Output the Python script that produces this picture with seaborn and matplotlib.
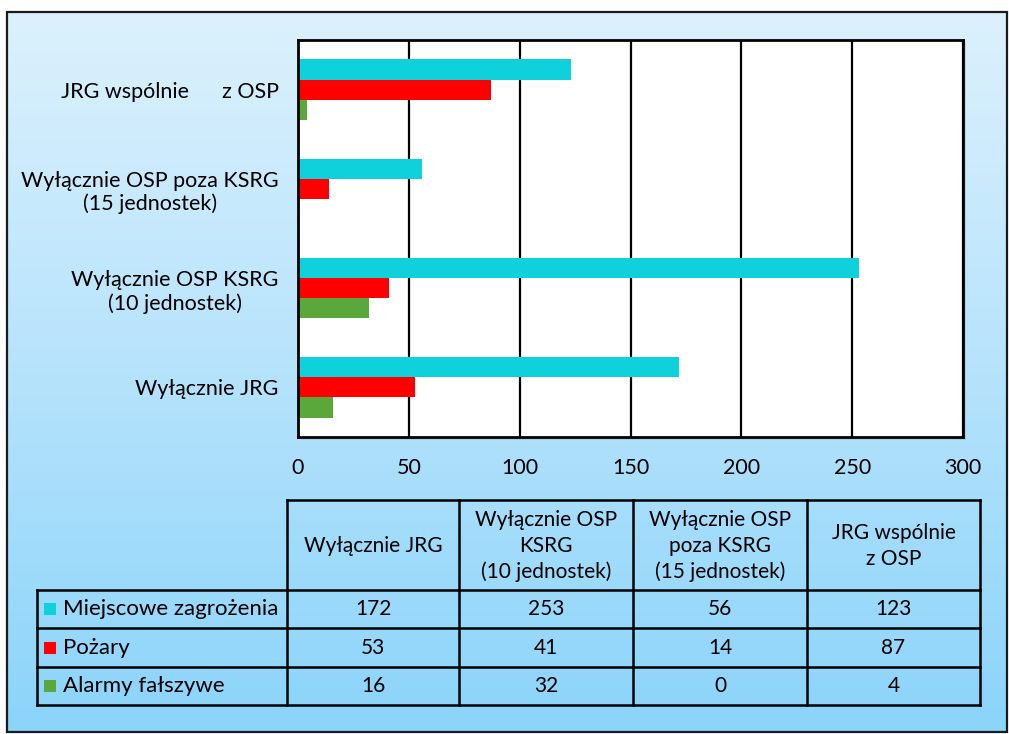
import matplotlib
matplotlib.use("Agg")
import matplotlib.pyplot as plt
import numpy as np
import pandas as pd
import seaborn as sns
from matplotlib.colors import LinearSegmentedColormap
from matplotlib.patches import Rectangle

# data
categories = ["Wyłącznie JRG", "Wyłącznie OSP KSRG", "Wyłącznie OSP poza KSRG", "JRG wspólnie z OSP"]
axis_labels = ["Wyłącznie JRG", "Wyłącznie OSP KSRG\n(10 jednostek)",
               "Wyłącznie OSP poza KSRG\n(15 jednostek)", "JRG wspólnie      z OSP"]
table_headers = ["Wyłącznie JRG", "Wyłącznie OSP\nKSRG\n(10 jednostek)",
                 "Wyłącznie OSP\npoza KSRG\n(15 jednostek)", "JRG wspólnie\nz OSP"]
series = ["Miejscowe zagrożenia", "Pożary", "Alarmy fałszywe"]
miejscowe = [172, 253, 56, 123]
pozary = [53, 41, 14, 87]
alarmy = [16, 32, 0, 4]
colors = ["#0ed1db", "#ff0000", "#5aa83c"]

values = [miejscowe, pozary, alarmy]
df = pd.DataFrame({
    "kat": categories * 3,
    "seria": [s for s in series for _ in categories],
    "wartosc": miejscowe + pozary + alarmy,
})

W, H = 1009, 734
fig = plt.figure(figsize=(W / 100, H / 100), dpi=100)
plt.rcParams["font.family"] = ["Lato", "DejaVu Sans"]

# background layer in pixel coordinates
bg = fig.add_axes([0, 0, 1, 1], zorder=0)
bg.set_xlim(0, W)
bg.set_ylim(H, 0)
bg.axis("off")
cmap = LinearSegmentedColormap.from_list("bg", ["#dcf1fd", "#b6e3fc", "#8bd4fa"])
grad = np.linspace(0, 1, 256).reshape(-1, 1)
bg.imshow(grad, cmap=cmap, extent=[7, 1007, 732, 12], aspect="auto", zorder=0)
bg.add_patch(Rectangle((7, 12), 1000, 720, fill=False, ec="#1a1a1a", lw=1.6, zorder=2))
# plot-area shadow
bg.add_patch(Rectangle((301, 42), 665, 398, fc="#9aa8b0", ec="none", alpha=0.35, zorder=1))

# bar chart
ax = fig.add_axes([298 / W, 1 - 437 / H, 665 / W, 397 / H], zorder=2)
sns.barplot(data=df, y="kat", x="wartosc", hue="seria", order=categories[::-1],
            hue_order=series, palette=colors, orient="h", width=0.61,
            saturation=1, ax=ax, legend=False)
ax.set_xlim(0, 300)
ax.set_ylim(3.5, -0.5)
ax.set_xticks(range(0, 301, 50))
ax.set_yticks(range(4))
ax.set_yticklabels(axis_labels[::-1], multialignment="center")
ax.set_xlabel("")
ax.set_ylabel("")
ax.set_facecolor("white")
ax.tick_params(axis="both", length=0, labelsize=15.5, colors="black")
ax.tick_params(axis="x", pad=15)
ax.tick_params(axis="y", pad=14)
for b in ax.patches:
    b.set_edgecolor("none")
ax.grid(axis="x", color="black", lw=1.6)
ax.set_axisbelow(True)
for sp in ax.spines.values():
    sp.set_color("black")
    sp.set_linewidth(2)

# data table below the chart
cols = [287, 459, 633, 807, 980]
rows = [590, 628, 667, 705]
head_top = 500
lab_left = 37
lw = 1.8
bg.plot([cols[0], cols[-1]], [head_top, head_top], color="black", lw=lw, zorder=3)
for y in rows:
    bg.plot([lab_left, cols[-1]], [y, y], color="black", lw=lw, zorder=3)
for x in cols:
    bg.plot([x, x], [head_top, rows[-1]], color="black", lw=lw, zorder=3)
bg.plot([lab_left, lab_left], [rows[0], rows[-1]], color="black", lw=lw, zorder=3)

for j, h in enumerate(table_headers):
    bg.text((cols[j] + cols[j + 1]) / 2, (head_top + rows[0]) / 2 + 1, h,
            ha="center", va="center", fontsize=15, linespacing=1.35, zorder=4)
for i, s in enumerate(series):
    yc = (rows[i] + rows[i + 1]) / 2
    bg.add_patch(Rectangle((44, yc - 6), 12, 12, fc=colors[i], ec="none", zorder=4))
    bg.text(63, yc, s, ha="left", va="center", fontsize=16, zorder=4)
    for j in range(len(categories)):
        bg.text((cols[j] + cols[j + 1]) / 2, yc, str(values[i][j]),
                ha="center", va="center", fontsize=15, zorder=4)

fig.savefig("out.png", dpi=100, facecolor="white")
